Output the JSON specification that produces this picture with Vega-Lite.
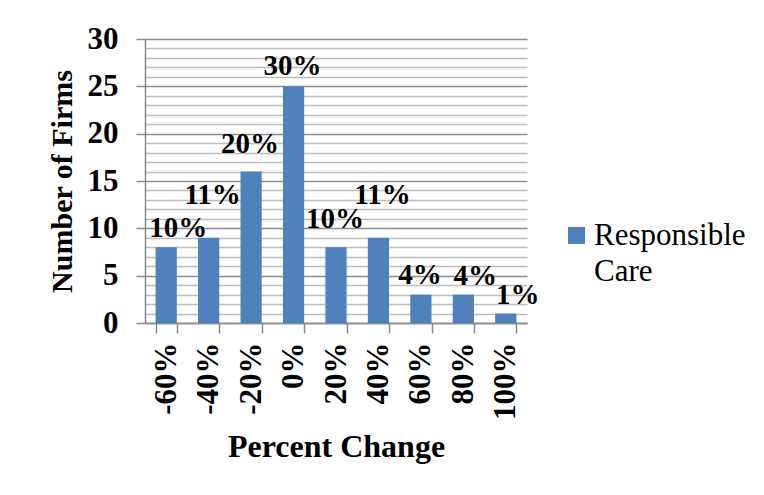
{
  "$schema": "https://vega.github.io/schema/vega-lite/v6.json",
  "width": 382,
  "height": 284,
  "autosize": {"type": "none"},
  "padding": {"left": 145, "top": 39, "right": 237, "bottom": 172},
  "background": "white",
  "data": {
    "values": [
      {"change": "-60%", "firms": 8, "share": 0.10, "series": "Responsible Care"},
      {"change": "-40%", "firms": 9, "share": 0.11, "series": "Responsible Care"},
      {"change": "-20%", "firms": 16, "share": 0.20, "series": "Responsible Care"},
      {"change": "0%", "firms": 25, "share": 0.30, "series": "Responsible Care"},
      {"change": "20%", "firms": 8, "share": 0.10, "series": "Responsible Care"},
      {"change": "40%", "firms": 9, "share": 0.11, "series": "Responsible Care"},
      {"change": "60%", "firms": 3, "share": 0.04, "series": "Responsible Care"},
      {"change": "80%", "firms": 3, "share": 0.04, "series": "Responsible Care"},
      {"change": "100%", "firms": 1, "share": 0.01, "series": "Responsible Care"}
    ]
  },
  "encoding": {
    "x": {
      "field": "change",
      "type": "nominal",
      "sort": null,
      "scale": {"paddingInner": 0.5, "paddingOuter": 0.25},
      "axis": {
        "title": "Percent Change",
        "labelAngle": 270,
        "labelPadding": 9,
        "labelFontSize": 31,
        "tickBand": "extent",
        "tickSize": 10,
        "tickColor": "#888888",
        "tickWidth": 1.5,
        "domainColor": "#888888",
        "domainWidth": 1.5,
        "titleFontSize": 32,
        "titlePadding": 12
      }
    },
    "y": {
      "field": "firms",
      "type": "quantitative",
      "scale": {"domain": [0, 30], "nice": false},
      "axis": {
        "title": "Number of Firms",
        "values": [0,1,2,3,4,5,6,7,8,9,10,11,12,13,14,15,16,17,18,19,20,21,22,23,24,25,26,27,28,29,30],
        "labelExpr": "datum.value % 5 === 0 ? datum.label : ''",
        "labelFontSize": 31,
        "grid": true,
        "gridColor": {"condition": {"test": "datum.value % 5 === 0", "value": "#8c8c8c"}, "value": "#bdbdbd"},
        "gridWidth": 1.5,
        "tickSize": 9,
        "tickColor": "#888888",
        "tickWidth": 1.5,
        "tickOpacity": {"condition": {"test": "datum.value % 5 === 0", "value": 1}, "value": 0},
        "domainColor": "#888888",
        "domainWidth": 1.5,
        "labelPadding": 18,
        "titleFontSize": 30,
        "titlePadding": 10
      }
    }
  },
  "layer": [
    {
      "mark": {"type": "bar", "color": "#4F81BD"},
      "encoding": {
        "color": {
          "field": "series",
          "type": "nominal",
          "scale": {"range": ["#4F81BD"]},
          "legend": {
            "title": null,
            "orient": "none",
            "legendX": 416,
            "legendY": 181,
            "padding": 0,
            "symbolType": "square",
            "symbolSize": 290,
            "symbolStrokeWidth": 0,
            "labelFont": "Liberation Serif",
            "labelFontSize": 31,
            "labelFontWeight": "normal",
            "labelColor": "black",
            "labelOffset": 2,
            "labelLimit": 300,
            "labelExpr": "split(datum.label, ' ')",
            "encode": {"labels": {"update": {"lineHeight": {"value": 36}}}}
          }
        }
      }
    },
    {
      "transform": [{"filter": "indexof(['-60%', '80%', '100%'], datum.change) >= 0"}],
      "mark": {"type": "text", "font": "Liberation Serif", "fontWeight": "bold", "fontSize": 29, "color": "black", "baseline": "alphabetic", "dx": 12, "dy": -10},
      "encoding": {"text": {"field": "share", "type": "quantitative", "format": ".0%"}}
    },
    {
      "transform": [{"filter": "indexof(['0%', '60%'], datum.change) >= 0"}],
      "mark": {"type": "text", "font": "Liberation Serif", "fontWeight": "bold", "fontSize": 29, "color": "black", "baseline": "alphabetic", "dx": -1, "dy": -11},
      "encoding": {"text": {"field": "share", "type": "quantitative", "format": ".0%"}}
    },
    {
      "transform": [{"filter": "indexof(['-20%', '20%'], datum.change) >= 0"}],
      "mark": {"type": "text", "font": "Liberation Serif", "fontWeight": "bold", "fontSize": 29, "color": "black", "baseline": "alphabetic", "dx": -1, "dy": -19},
      "encoding": {"text": {"field": "share", "type": "quantitative", "format": ".0%"}}
    },
    {
      "transform": [{"filter": "indexof(['-40%', '40%'], datum.change) >= 0"}],
      "mark": {"type": "text", "font": "Liberation Serif", "fontWeight": "bold", "fontSize": 29, "color": "black", "baseline": "alphabetic", "dx": 4, "dy": -34},
      "encoding": {"text": {"field": "share", "type": "quantitative", "format": ".0%"}}
    }
  ],
  "config": {
    "view": {"stroke": null},
    "axis": {
      "labelFont": "Liberation Serif",
      "labelFontWeight": "bold",
      "labelColor": "black",
      "titleFont": "Liberation Serif",
      "titleFontWeight": "bold",
      "titleColor": "black"
    }
  }
}
